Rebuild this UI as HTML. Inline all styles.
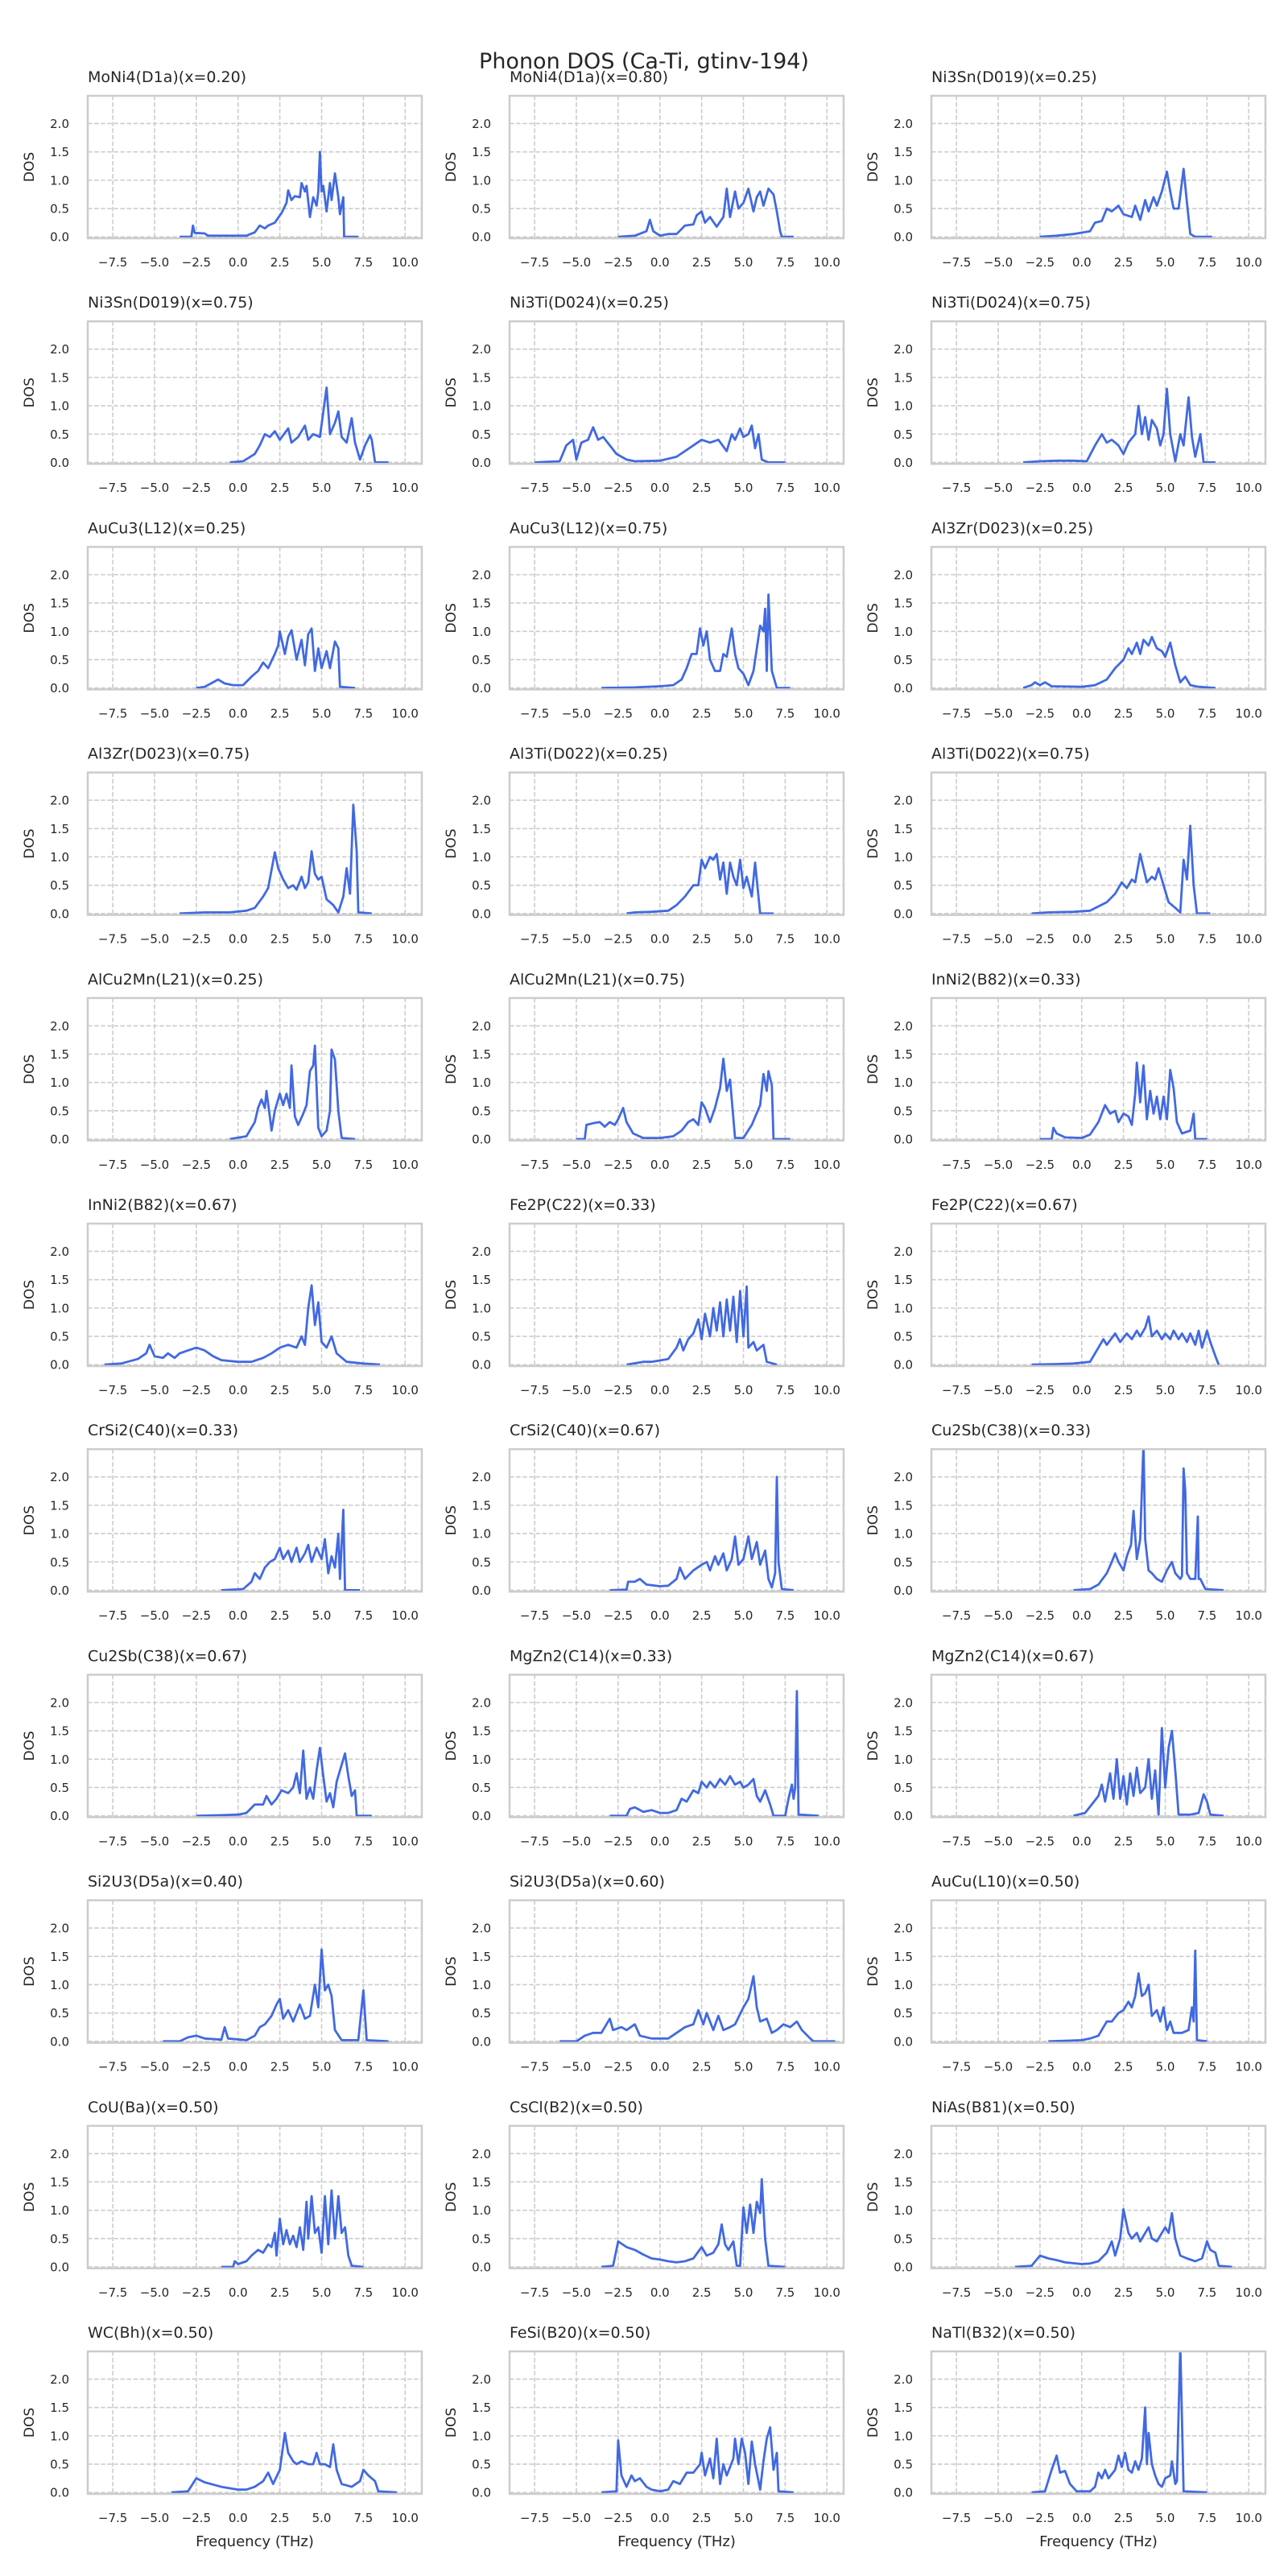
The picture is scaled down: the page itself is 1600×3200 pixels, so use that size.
<!DOCTYPE html>
<html>
<head>
<meta charset="utf-8">
<style>
  html, body { margin: 0; padding: 0; background: #ffffff; }
  svg { display: block; font-family: "DejaVu Sans", "Liberation Sans", sans-serif; }
</style>
</head>
<body>
<svg id="fig" width="1600" height="3200" viewBox="0 0 1600 3200" xmlns="http://www.w3.org/2000/svg">
  <rect x="0" y="0" width="1600" height="3200" fill="#ffffff"/>
  <text x="800" y="85" text-anchor="middle" font-size="27" fill="#262626">Phonon DOS (Ca-Ti, gtinv-194)</text>
</svg>
<script>
const titles = [
  "MoNi4(D1a)(x=0.20)","MoNi4(D1a)(x=0.80)","Ni3Sn(D019)(x=0.25)",
  "Ni3Sn(D019)(x=0.75)","Ni3Ti(D024)(x=0.25)","Ni3Ti(D024)(x=0.75)",
  "AuCu3(L12)(x=0.25)","AuCu3(L12)(x=0.75)","Al3Zr(D023)(x=0.25)",
  "Al3Zr(D023)(x=0.75)","Al3Ti(D022)(x=0.25)","Al3Ti(D022)(x=0.75)",
  "AlCu2Mn(L21)(x=0.25)","AlCu2Mn(L21)(x=0.75)","InNi2(B82)(x=0.33)",
  "InNi2(B82)(x=0.67)","Fe2P(C22)(x=0.33)","Fe2P(C22)(x=0.67)",
  "CrSi2(C40)(x=0.33)","CrSi2(C40)(x=0.67)","Cu2Sb(C38)(x=0.33)",
  "Cu2Sb(C38)(x=0.67)","MgZn2(C14)(x=0.33)","MgZn2(C14)(x=0.67)",
  "Si2U3(D5a)(x=0.40)","Si2U3(D5a)(x=0.60)","AuCu(L10)(x=0.50)",
  "CoU(Ba)(x=0.50)","CsCl(B2)(x=0.50)","NiAs(B81)(x=0.50)",
  "WC(Bh)(x=0.50)","FeSi(B20)(x=0.50)","NaTl(B32)(x=0.50)"
];
const xTicks = [-7.5, -5.0, -2.5, 0.0, 2.5, 5.0, 7.5, 10.0];
const xTickLabels = ["\u22127.5","\u22125.0","\u22122.5","0.0","2.5","5.0","7.5","10.0"];
const yTicks = [0.0, 0.5, 1.0, 1.5, 2.0];
const yTickLabels = ["0.0","0.5","1.0","1.5","2.0"];
const xLimits = [-9.0, 11.0];
const yLimits = [-0.025, 2.49];

const freqs = [
 [-3.5,-2.8,-2.7,-2.6,-2,-1.8,0.5,1.0,1.3,1.6,1.8,2.2,2.6,2.9,3.0,3.2,3.4,3.7,3.8,4.0,4.1,4.3,4.5,4.7,4.8,4.9,5.0,5.1,5.3,5.5,5.6,5.8,6.0,6.1,6.3,6.35,7.2],
 [-2.5,-1.5,-0.8,-0.6,-0.4,0,0.5,1.0,1.5,2.0,2.2,2.5,2.7,3.0,3.4,3.8,4.0,4.2,4.5,4.7,5.0,5.3,5.6,5.8,6.0,6.2,6.5,6.8,7.0,7.2,7.3,8.0],
 [-2.5,-1.5,-0.5,0.5,0.8,1.2,1.5,1.8,2.2,2.5,3.0,3.2,3.5,3.8,4.0,4.3,4.5,4.8,5.1,5.3,5.5,5.8,6.1,6.3,6.5,6.8,7.8],
 [-0.5,0.3,1.0,1.3,1.6,1.9,2.2,2.5,3.0,3.2,3.6,4.0,4.2,4.5,4.9,5.3,5.5,5.8,6.0,6.2,6.5,6.8,7.0,7.3,7.6,7.9,8.0,8.2,9.0],
 [-7.5,-6.0,-5.6,-5.2,-5.0,-4.7,-4.3,-4.0,-3.7,-3.4,-3.0,-2.6,-2.0,-1.5,0,1.0,1.5,2.0,2.5,3.0,3.5,4.0,4.3,4.5,4.8,5.0,5.3,5.5,5.7,5.9,6.1,6.5,7.5],
 [-3.5,-2.5,-1.5,-0.5,0.3,0.8,1.2,1.5,1.8,2.2,2.5,2.8,3.2,3.4,3.6,3.8,4.0,4.2,4.5,4.7,4.9,5.1,5.3,5.6,5.9,6.1,6.4,6.6,6.8,7.1,7.3,8.0],
 [-2.5,-2.0,-1.5,-1.2,-0.8,-0.3,0.3,0.8,1.2,1.5,1.8,2.2,2.4,2.5,2.8,3.0,3.2,3.5,3.8,4.0,4.2,4.4,4.6,4.8,5.0,5.3,5.5,5.8,6.0,6.1,7.0],
 [-3.5,-1.5,0,0.8,1.3,1.6,1.9,2.2,2.4,2.6,2.8,3.0,3.3,3.6,3.8,4.0,4.3,4.5,4.7,5.0,5.3,5.6,6.0,6.2,6.3,6.4,6.5,6.7,7.0,7.8],
 [-3.5,-3.0,-2.8,-2.5,-2.2,-1.8,0,0.8,1.5,2.0,2.5,2.8,3.0,3.3,3.5,3.7,4.0,4.2,4.5,4.8,5.0,5.3,5.6,5.9,6.2,6.5,7.0,8.0],
 [-3.5,-2.0,-0.5,0.5,1.0,1.5,1.8,2.2,2.4,2.7,3.0,3.3,3.5,3.8,4.0,4.2,4.4,4.6,4.8,5.0,5.3,5.7,6.0,6.3,6.5,6.7,6.9,7.1,7.2,8.0],
 [-2.0,-1.5,-0.5,0.5,1.0,1.5,2.0,2.3,2.5,2.7,3.0,3.2,3.4,3.6,3.8,4.0,4.2,4.4,4.6,4.8,5.0,5.2,5.5,5.7,5.9,6.0,6.8],
 [-3.0,-2.0,-0.5,0.5,1.5,2.0,2.4,2.7,3.0,3.2,3.5,3.7,3.9,4.2,4.4,4.6,4.9,5.2,5.6,5.9,6.1,6.3,6.5,6.7,6.9,7.7],
 [-0.5,0.5,1.0,1.2,1.4,1.6,1.7,1.9,2.0,2.2,2.5,2.7,2.9,3.1,3.2,3.4,3.6,3.9,4.1,4.3,4.5,4.6,4.8,5.0,5.3,5.5,5.6,5.8,6.0,6.2,7.0],
 [-5.0,-4.5,-4.4,-4.0,-3.6,-3.3,-3.0,-2.7,-2.5,-2.2,-2.0,-1.6,-1.0,0,0.8,1.3,1.7,2.0,2.3,2.5,2.7,3.0,3.3,3.6,3.8,4.0,4.2,4.5,5.0,5.5,6.0,6.2,6.4,6.5,6.7,6.8,7.8],
 [-2.5,-1.8,-1.7,-1.5,-1.0,0,0.5,1.0,1.4,1.7,2.0,2.2,2.5,2.8,3.0,3.2,3.3,3.5,3.7,3.9,4.1,4.3,4.5,4.7,4.9,5.1,5.3,5.5,5.7,6.0,6.5,6.7,6.8,7.5],
 [-8.0,-7.0,-6.0,-5.5,-5.3,-5.0,-4.5,-4.2,-3.8,-3.5,-3.0,-2.5,-2.0,-1.5,-1.0,0,0.8,1.5,2.0,2.5,3.0,3.5,3.8,4.0,4.2,4.4,4.6,4.8,5.0,5.3,5.6,5.9,6.5,7.5,8.5],
 [-2.0,-1.0,-0.5,0.5,1.0,1.2,1.4,1.7,2.0,2.3,2.5,2.7,3.0,3.2,3.4,3.6,3.8,4.0,4.2,4.4,4.6,4.8,5.0,5.2,5.3,5.6,5.8,6.2,6.4,7.0],
 [-3.0,-1.5,-0.5,0.5,1.0,1.3,1.5,2.0,2.3,2.7,3.0,3.3,3.5,3.8,4.0,4.2,4.5,4.8,5.0,5.3,5.5,5.8,6.0,6.3,6.5,6.8,7.0,7.2,7.5,7.7,8.0,8.2],
 [-1.0,0.3,0.8,1.0,1.3,1.6,1.9,2.2,2.5,2.7,3.0,3.2,3.5,3.7,4.0,4.2,4.4,4.7,5.0,5.2,5.4,5.6,5.8,6.0,6.1,6.3,6.4,7.3],
 [-3.0,-2.0,-1.9,-1.5,-1.2,-0.8,0,0.5,1.0,1.2,1.5,2.0,2.5,2.8,3.0,3.3,3.5,3.8,4.0,4.3,4.5,4.7,5.0,5.3,5.5,5.8,6.0,6.3,6.5,6.7,6.9,7.0,7.1,7.3,8.0],
 [-0.5,0.5,1.0,1.5,1.8,2.0,2.2,2.5,2.7,2.95,3.1,3.3,3.5,3.7,3.8,4.0,4.2,4.5,4.8,5.1,5.4,5.6,5.9,6.0,6.1,6.2,6.3,6.5,6.8,6.95,7.0,7.1,7.4,8.5],
 [-2.5,-1.0,0,0.5,1.0,1.5,1.7,2.0,2.3,2.6,3.0,3.3,3.5,3.7,3.9,4.1,4.3,4.5,4.7,4.9,5.1,5.3,5.5,5.7,5.9,6.2,6.4,6.6,6.8,7.0,7.1,8.0],
 [-3.0,-2.0,-1.8,-1.5,-1.0,-0.5,0,0.5,1.0,1.3,1.6,2.0,2.3,2.5,2.8,3.0,3.3,3.6,3.9,4.2,4.5,4.8,5.0,5.3,5.6,5.8,6.0,6.3,6.6,6.8,7.5,7.7,7.9,8.0,8.1,8.2,8.3,9.5],
 [-0.5,0.2,0.6,1.0,1.2,1.4,1.7,1.9,2.1,2.3,2.5,2.7,2.9,3.1,3.3,3.5,3.8,4.0,4.2,4.4,4.6,4.8,5.0,5.2,5.4,5.6,5.8,6.5,7.0,7.3,7.5,7.7,8.5],
 [-4.5,-3.5,-3.0,-2.5,-2.0,-1.0,-0.8,-0.6,0.5,1.0,1.3,1.6,2.0,2.3,2.5,2.7,3.0,3.3,3.7,4.0,4.3,4.6,4.8,5.0,5.2,5.4,5.6,5.8,6.2,7.2,7.5,7.7,9.0],
 [-6.0,-5.0,-4.5,-4.0,-3.5,-3.0,-2.8,-2.3,-2.0,-1.5,-1.2,-0.5,0.5,1.0,1.5,2.0,2.3,2.6,2.8,3.2,3.5,3.8,4.2,4.5,5.0,5.3,5.6,5.8,6.0,6.4,6.7,7.0,7.4,7.8,8.2,8.5,9.0,9.2,10.5],
 [-2.0,-1.0,0,0.5,1.0,1.5,1.8,2.2,2.5,2.8,3.0,3.2,3.4,3.6,3.8,4.0,4.2,4.5,4.7,4.9,5.1,5.3,5.5,6.0,6.4,6.6,6.7,6.8,6.9,7.5],
 [-1.0,-0.3,-0.2,0,0.5,0.8,1.2,1.5,1.8,2.0,2.2,2.3,2.5,2.7,2.9,3.1,3.3,3.5,3.7,3.9,4.1,4.2,4.4,4.6,4.8,5.0,5.2,5.4,5.6,5.8,6.0,6.2,6.4,6.6,6.8,7.5],
 [-3.5,-2.8,-2.5,-2.0,-1.5,-1.0,-0.5,0,0.5,1.0,1.5,2.0,2.5,2.8,3.2,3.5,3.7,3.9,4.1,4.4,4.6,4.8,5.0,5.2,5.4,5.6,5.8,6.0,6.1,6.3,6.5,7.5],
 [-4.0,-3.0,-2.5,-2.0,-1.5,-1.0,0,0.5,1.0,1.5,1.8,2.0,2.3,2.5,2.8,3.0,3.3,3.5,4.0,4.2,4.5,4.8,5.0,5.2,5.4,5.6,5.9,6.3,6.8,7.2,7.5,7.7,8.0,8.2,9.0],
 [-4.0,-3.0,-2.5,-2.0,-1.0,0,0.5,1.0,1.5,1.8,2.1,2.5,2.8,3.0,3.3,3.5,3.8,4.2,4.5,4.7,4.9,5.2,5.5,5.7,5.9,6.2,6.8,7.3,7.5,7.8,8.2,8.4,9.5],
 [-3.5,-2.6,-2.5,-2.3,-2.0,-1.7,-1.5,-1.2,-0.8,-0.5,0,0.5,0.8,1.2,1.6,2.0,2.4,2.5,2.7,3.0,3.2,3.4,3.6,3.8,4.0,4.4,4.5,4.7,4.9,5.1,5.3,5.5,5.7,6.0,6.2,6.4,6.6,6.8,7.0,7.1,8.0],
 [-3.0,-2.2,-1.8,-1.5,-1.3,-1.0,-0.7,-0.3,0.5,0.8,1.0,1.2,1.4,1.6,2.0,2.2,2.4,2.6,2.8,3.0,3.2,3.4,3.6,3.8,3.9,4.0,4.2,4.4,4.6,4.8,5.0,5.3,5.4,5.6,5.7,5.9,6.1,7.5]
];
const dosVals = [
 [0,0,0.2,0.07,0.06,0.02,0.02,0.08,0.2,0.15,0.2,0.25,0.42,0.6,0.82,0.65,0.72,0.7,0.95,0.8,0.9,0.35,0.7,0.55,0.8,1.5,0.8,0.9,0.45,0.95,0.65,1.12,0.7,0.4,0.7,0,0],
 [0,0.02,0.1,0.3,0.1,0.02,0.05,0.05,0.2,0.22,0.38,0.45,0.25,0.35,0.18,0.35,0.85,0.35,0.8,0.5,0.6,0.85,0.45,0.7,0.8,0.55,0.85,0.75,0.45,0.1,0,0],
 [0,0.02,0.05,0.1,0.25,0.28,0.5,0.45,0.55,0.4,0.35,0.55,0.3,0.65,0.45,0.7,0.55,0.8,1.15,0.8,0.5,0.5,1.2,0.6,0.05,0,0],
 [0,0.02,0.15,0.3,0.5,0.45,0.55,0.4,0.6,0.35,0.45,0.65,0.4,0.5,0.45,1.32,0.5,0.7,0.9,0.45,0.35,0.78,0.35,0.05,0.3,0.48,0.4,0,0],
 [0,0.02,0.3,0.4,0.05,0.35,0.4,0.62,0.4,0.45,0.3,0.15,0.05,0.02,0.03,0.1,0.2,0.3,0.4,0.35,0.4,0.2,0.5,0.4,0.6,0.45,0.5,0.65,0.25,0.5,0.05,0,0],
 [0,0.02,0.03,0.03,0.02,0.3,0.5,0.35,0.4,0.3,0.15,0.35,0.5,1.0,0.5,0.8,0.4,0.75,0.6,0.3,0.5,1.3,0.5,0.02,0.5,0.3,1.15,0.45,0.1,0.5,0,0],
 [0,0.02,0.1,0.15,0.08,0.05,0.05,0.2,0.3,0.45,0.35,0.6,0.75,1.0,0.6,0.9,1.02,0.5,0.85,0.4,0.95,1.05,0.3,0.7,0.35,0.65,0.35,0.82,0.7,0.02,0],
 [0,0.01,0.03,0.05,0.15,0.35,0.6,0.6,1.05,0.75,1.0,0.5,0.3,0.3,0.6,0.55,1.05,0.6,0.35,0.25,0.05,0.3,1.1,1.0,1.4,0.3,1.65,0.3,0,0],
 [0,0.05,0.1,0.05,0.1,0.03,0.02,0.05,0.15,0.35,0.5,0.7,0.6,0.8,0.6,0.85,0.75,0.9,0.7,0.65,0.55,0.8,0.4,0.1,0.2,0.05,0.02,0],
 [0,0.02,0.02,0.05,0.1,0.3,0.45,1.08,0.8,0.6,0.45,0.5,0.42,0.65,0.45,0.55,1.1,0.7,0.6,0.65,0.25,0.15,0.02,0.3,0.8,0.35,1.92,1.1,0.02,0],
 [0,0.02,0.03,0.05,0.15,0.3,0.5,0.5,0.95,0.8,1.0,0.95,1.05,0.6,0.9,0.35,0.9,0.65,0.5,0.95,0.45,0.65,0.3,0.9,0.3,0,0],
 [0,0.02,0.03,0.05,0.2,0.35,0.55,0.45,0.6,0.55,1.05,0.8,0.55,0.65,0.6,0.8,0.5,0.2,0.1,0.02,0.95,0.6,1.55,0.5,0,0],
 [0,0.05,0.3,0.55,0.7,0.55,0.85,0.4,0.15,0.5,0.8,0.6,0.8,0.55,1.3,0.4,0.25,0.45,0.6,1.2,1.3,1.65,0.2,0.05,0.15,0.5,1.58,1.4,0.5,0.02,0],
 [0,0,0.25,0.28,0.3,0.22,0.3,0.25,0.35,0.55,0.3,0.1,0.02,0.02,0.05,0.15,0.3,0.35,0.25,0.65,0.55,0.3,0.55,0.9,1.42,0.85,1.05,0.02,0.02,0.25,0.6,1.15,0.85,1.2,0.95,0,0],
 [0,0,0.2,0.1,0.03,0.02,0.08,0.3,0.6,0.45,0.5,0.3,0.45,0.4,0.25,0.8,1.35,0.65,1.3,0.35,0.85,0.45,0.75,0.35,0.75,0.35,1.22,0.9,0.3,0.1,0.15,0.45,0,0],
 [0,0.02,0.1,0.2,0.35,0.15,0.12,0.2,0.12,0.2,0.25,0.3,0.25,0.15,0.08,0.05,0.05,0.12,0.2,0.3,0.35,0.3,0.5,0.35,1.0,1.4,0.7,1.1,0.4,0.3,0.5,0.2,0.05,0.02,0],
 [0,0.05,0.05,0.1,0.3,0.45,0.25,0.45,0.55,0.8,0.45,0.9,0.5,1.0,0.6,1.1,0.5,1.15,0.6,1.2,0.4,1.3,0.5,1.38,0.3,0.4,0.25,0.35,0.05,0],
 [0,0.01,0.02,0.05,0.3,0.45,0.35,0.55,0.4,0.55,0.45,0.6,0.5,0.65,0.85,0.5,0.6,0.45,0.55,0.45,0.6,0.45,0.55,0.4,0.55,0.35,0.6,0.3,0.6,0.4,0.15,0],
 [0,0.02,0.15,0.3,0.2,0.4,0.5,0.55,0.75,0.55,0.7,0.5,0.75,0.5,0.65,0.8,0.5,0.75,0.55,0.9,0.3,0.6,0.4,1.0,0.2,1.42,0,0],
 [0,0.01,0.15,0.15,0.2,0.1,0.07,0.08,0.2,0.4,0.2,0.35,0.45,0.5,0.35,0.6,0.45,0.65,0.35,0.55,0.95,0.45,0.55,0.95,0.55,0.85,0.45,0.7,0.2,0.05,0.3,2.0,0.5,0.02,0],
 [0,0.02,0.1,0.3,0.5,0.65,0.5,0.35,0.6,0.8,1.4,0.55,0.9,2.6,0.9,0.35,0.3,0.2,0.15,0.35,0.5,0.3,0.2,0.25,2.15,1.75,0.3,0.2,0.2,1.3,0.2,0.2,0.02,0],
 [0,0.01,0.02,0.05,0.2,0.2,0.35,0.2,0.3,0.45,0.4,0.5,0.75,0.4,1.15,0.3,0.5,0.3,0.8,1.2,0.7,0.25,0.4,0.15,0.6,0.9,1.1,0.7,0.35,0.45,0,0],
 [0,0,0.12,0.15,0.07,0.1,0.05,0.05,0.1,0.3,0.25,0.45,0.4,0.6,0.5,0.6,0.5,0.65,0.55,0.7,0.55,0.6,0.5,0.55,0.65,0.35,0.25,0.45,0.2,0,0,0.3,0.55,0.3,0.5,2.2,0.02,0],
 [0,0.05,0.2,0.35,0.55,0.25,0.75,0.3,1.0,0.3,0.7,0.2,0.75,0.35,0.85,0.4,0.5,1.0,0.3,0.8,0.02,1.55,0.5,1.2,1.5,0.8,0.02,0.02,0.05,0.38,0.25,0.02,0],
 [0,0,0.07,0.1,0.05,0.03,0.25,0.05,0.02,0.1,0.25,0.3,0.45,0.65,0.75,0.4,0.55,0.35,0.65,0.4,0.45,1.0,0.6,1.62,0.9,1.0,0.8,0.2,0.02,0.02,0.9,0.02,0],
 [0,0,0.1,0.15,0.15,0.4,0.2,0.25,0.2,0.3,0.1,0.05,0.05,0.15,0.25,0.3,0.55,0.3,0.5,0.2,0.45,0.2,0.25,0.3,0.6,0.75,1.15,0.6,0.35,0.4,0.15,0.2,0.3,0.25,0.35,0.2,0.05,0,0],
 [0,0.01,0.02,0.05,0.1,0.35,0.35,0.5,0.55,0.7,0.6,0.8,1.2,0.8,0.85,1.0,0.45,0.55,0.35,0.6,0.2,0.35,0.15,0.15,0.2,0.6,0.35,1.6,0.02,0],
 [0,0,0.1,0.05,0.1,0.2,0.3,0.25,0.4,0.35,0.6,0.2,0.85,0.4,0.65,0.4,0.55,0.35,0.7,0.3,1.15,0.5,1.25,0.6,0.7,0.25,1.25,0.4,1.35,0.5,1.25,0.6,0.7,0.2,0.02,0],
 [0,0.02,0.45,0.35,0.3,0.22,0.15,0.13,0.1,0.08,0.1,0.15,0.35,0.2,0.25,0.4,0.75,0.4,0.3,0.45,0.02,0.02,1.05,0.6,1.1,0.6,1.15,0.95,1.55,0.5,0.02,0],
 [0,0.02,0.2,0.15,0.12,0.08,0.05,0.06,0.1,0.25,0.45,0.2,0.5,1.02,0.6,0.5,0.6,0.45,0.7,0.5,0.45,0.6,0.7,0.6,0.95,0.5,0.2,0.15,0.1,0.15,0.45,0.3,0.25,0.02,0],
 [0,0.02,0.25,0.18,0.1,0.05,0.05,0.1,0.2,0.35,0.15,0.4,1.05,0.7,0.55,0.5,0.55,0.5,0.5,0.7,0.5,0.5,0.45,0.85,0.4,0.15,0.1,0.2,0.4,0.3,0.2,0.02,0],
 [0,0.02,0.92,0.3,0.1,0.3,0.2,0.25,0.1,0.05,0.02,0.05,0.2,0.15,0.35,0.35,0.5,0.7,0.3,0.6,0.25,0.95,0.15,0.5,0.3,0.6,0.95,0.5,0.95,0.7,0.15,0.9,0.5,0.05,0.55,0.95,1.15,0.4,0.7,0.02,0],
 [0,0.02,0.4,0.65,0.35,0.38,0.15,0.02,0.02,0.1,0.35,0.25,0.4,0.25,0.4,0.65,0.45,0.7,0.4,0.35,0.55,0.4,0.6,1.5,0.5,1.05,0.5,0.3,0.15,0.1,0.25,0.3,0.55,0.15,0.2,2.6,0.02,0]
];

const NS = "http://www.w3.org/2000/svg";
const svg = document.getElementById("fig");
const colLefts = [109, 633, 1157];
const axW = 415, axH = 177, rowTop0 = 119, rowPitch = 280.2;

function mk(tag, attrs, parent) {
  const el = document.createElementNS(NS, tag);
  for (const k in attrs) el.setAttribute(k, attrs[k]);
  parent.appendChild(el);
  return el;
}

titles.forEach((title, i) => {
  const r = Math.floor(i / 3), c = i % 3;
  const L = colLefts[c], T = rowTop0 + r * rowPitch;
  const xs = v => L + (v - xLimits[0]) / (xLimits[1] - xLimits[0]) * axW;
  const ys = v => T + (yLimits[1] - v) / (yLimits[1] - yLimits[0]) * axH;

  const g = mk("g", {}, svg);
  
  

  const cp = mk("clipPath", {id: "clip" + i}, g);
  mk("rect", {x: L, y: T, width: axW, height: axH}, cp);

  const grid = mk("g", {stroke: "#cccccc", "stroke-width": 1.6, "stroke-dasharray": "5.5,2.6", fill: "none"}, g);
  
  
  xTicks.forEach(t => { mk("line", {x1: xs(t), x2: xs(t), y1: T, y2: T + axH}, grid); });
  yTicks.forEach(t => { mk("line", {x1: L, x2: L + axW, y1: ys(t), y2: ys(t)}, grid); });

  const fx = freqs[i], dv = dosVals[i];
  const pts = fx.map((f, k) => xs(f).toFixed(1) + "," + ys(dv[k]).toFixed(1)).join(" ");
  const line = mk("polyline", {points: pts, fill: "none", stroke: "#4169e1", "stroke-width": 2.8, "stroke-linejoin": "round", "clip-path": "url(#clip" + i + ")"}, g);
  
  

  const frame = mk("rect", {x: L, y: T, width: axW, height: axH, fill: "none", stroke: "#cccccc", "stroke-width": 2.5}, g);
  
  

  const tt = mk("text", {x: L, y: T - 17, "font-size": 19, fill: "#262626"}, g);
  tt.textContent = title;
  
  

  xTicks.forEach((t, k) => {
    const tx = mk("text", {x: xs(t), y: T + axH + 35, "font-size": 15, fill: "#262626", "text-anchor": "middle"}, g);
    tx.textContent = xTickLabels[k];
    
    
  });
  yTicks.forEach((t, k) => {
    const ty = mk("text", {x: L - 23, y: ys(t) + 5.5, "font-size": 15, fill: "#262626", "text-anchor": "end"}, g);
    ty.textContent = yTickLabels[k];
    
    
  });

  const yl = mk("text", {x: 0, y: 0, "font-size": 17, fill: "#262626", "text-anchor": "middle",
    transform: "translate(" + (L - 67) + "," + (T + axH / 2) + ") rotate(-90)"}, g);
  yl.textContent = "DOS";
  
  

  if (r === 10) {
    const xl = mk("text", {x: L + axW / 2, y: T + axH + 65, "font-size": 18, fill: "#262626", "text-anchor": "middle"}, g);
    xl.textContent = "Frequency (THz)";
    
    
  }
});
</script>
</body>
</html>
